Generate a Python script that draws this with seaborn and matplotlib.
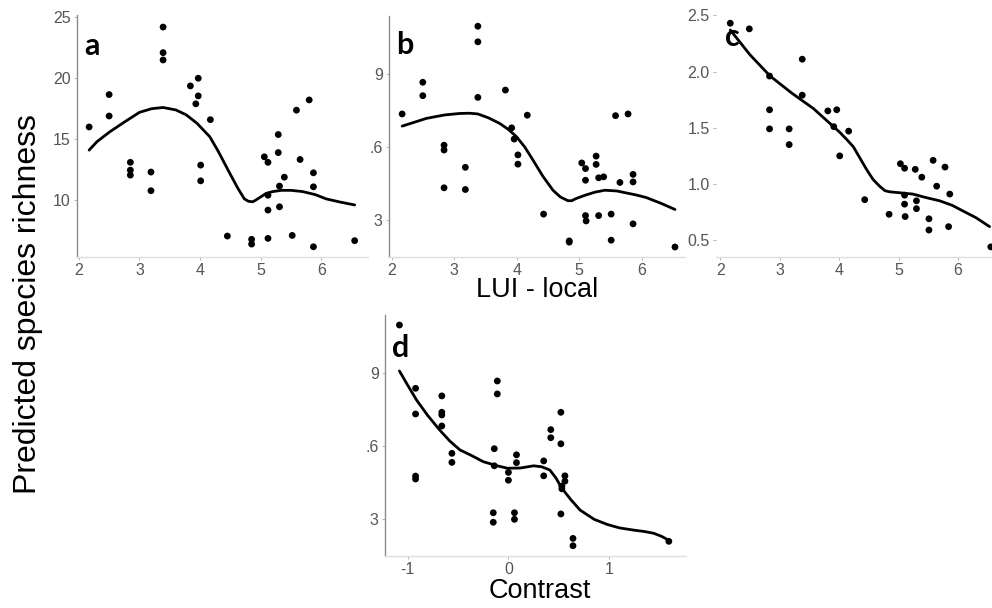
import numpy as np
import pandas as pd
import matplotlib
matplotlib.use("Agg")
import matplotlib.pyplot as plt
import seaborn as sns

# ---------------- data ----------------
lui_a = [2.17, 2.50, 2.50, 2.85, 2.85, 2.85, 3.19, 3.19, 3.39, 3.39, 3.39, 3.84, 3.93, 3.97, 3.97,
         4.01, 4.01, 4.17, 4.45, 4.85, 4.85, 5.06, 5.12, 5.12, 5.12, 5.12, 5.29, 5.29, 5.31, 5.31,
         5.39, 5.52, 5.59, 5.65, 5.80, 5.87, 5.87, 5.87, 6.55]
rich_a = [16.0, 18.66, 16.9, 13.1, 12.46, 12.05, 12.3, 10.77, 24.2, 22.1, 21.5, 19.37, 17.9, 20.0, 18.55,
          12.87, 11.58, 16.6, 7.05, 6.78, 6.39, 13.55, 13.1, 10.4, 9.18, 6.86, 15.38, 13.9, 11.15, 9.45,
          11.88, 7.1, 17.38, 13.33, 18.22, 12.24, 11.09, 6.17, 6.67]
fit_a_x = [2.17, 2.3, 2.51, 2.75, 3.0, 3.2, 3.39, 3.6, 3.77, 3.95, 4.16, 4.3, 4.49, 4.62, 4.73,
           4.8, 4.87, 4.95, 5.09, 5.2, 5.34, 5.5, 5.69, 5.9, 6.08, 6.3, 6.55]
fit_a_y = [14.1, 14.8, 15.6, 16.4, 17.2, 17.5, 17.6, 17.4, 17.0, 16.3, 15.2, 14.0, 12.2, 11.0, 10.1,
           9.9, 9.86, 10.1, 10.55, 10.7, 10.8, 10.8, 10.7, 10.45, 10.1, 9.85, 9.6]

lui_b = [2.17, 2.50, 2.50, 2.84, 2.84, 2.84, 3.18, 3.18, 3.38, 3.38, 3.38, 3.82, 3.92, 3.96, 4.02,
         4.02, 4.17, 4.43, 4.84, 4.84, 5.04, 5.10, 5.10, 5.10, 5.11, 5.27, 5.27, 5.31, 5.31, 5.39,
         5.51, 5.51, 5.58, 5.65, 5.78, 5.86, 5.86, 5.86, 6.53]
rich_b = [7.36, 8.66, 8.11, 6.08, 5.88, 4.33, 5.17, 4.26, 10.96, 10.32, 8.04, 8.34, 6.79, 6.33, 5.68,
          5.30, 7.31, 3.25, 2.15, 2.10, 5.35, 5.12, 4.64, 3.19, 2.97, 5.63, 5.29, 4.74, 3.19, 4.78,
          3.25, 2.18, 7.29, 4.55, 7.36, 4.88, 4.57, 2.85, 1.90]
fit_b_x = [2.17, 2.56, 2.85, 3.09, 3.25, 3.38, 3.55, 3.73, 3.87, 4.0, 4.13, 4.26, 4.42, 4.58, 4.7,
           4.82, 4.88, 4.95, 5.1, 5.25, 5.41, 5.6, 5.75, 5.92, 6.07, 6.3, 6.53]
fit_b_y = [6.86, 7.18, 7.32, 7.38, 7.39, 7.36, 7.2, 6.97, 6.72, 6.42, 6.0, 5.47, 4.8, 4.23, 3.95,
           3.80, 3.80, 3.89, 4.03, 4.15, 4.23, 4.2, 4.12, 4.03, 3.93, 3.7, 3.44]

lui_c = [2.17, 2.49, 2.83, 2.83, 2.83, 3.16, 3.16, 3.38, 3.38, 3.81, 3.96, 3.91, 4.01, 4.16, 4.43,
         4.84, 5.03, 5.10, 5.10, 5.10, 5.11, 5.28, 5.30, 5.30, 5.39, 5.51, 5.51, 5.58, 5.64, 5.78,
         5.84, 5.86, 6.55]
rich_c = [2.43, 2.38, 1.96, 1.66, 1.49, 1.49, 1.35, 2.11, 1.79, 1.65, 1.66, 1.51, 1.25, 1.47, 0.86,
          0.73, 1.18, 1.14, 0.90, 0.82, 0.71, 1.13, 0.85, 0.78, 1.06, 0.69, 0.59, 1.21, 0.98, 1.15,
          0.62, 0.91, 0.44]
fit_c_x = [2.17, 2.5, 2.84, 3.2, 3.57, 3.8, 4.01, 4.12, 4.24, 4.35, 4.46, 4.57, 4.68, 4.77, 4.85,
           5.05, 5.24, 5.45, 5.69, 5.9, 6.08, 6.3, 6.53]
fit_c_y = [2.37, 2.15, 1.96, 1.81, 1.67, 1.56, 1.46, 1.40, 1.33, 1.23, 1.13, 1.04, 0.98, 0.94, 0.93,
           0.92, 0.91, 0.88, 0.85, 0.81, 0.76, 0.70, 0.62]

contrast_d = [-1.08, -0.92, -0.92, -0.92, -0.92, -0.66, -0.66, -0.66, -0.66, -0.56, -0.56, -0.14, -0.14,
              -0.15, -0.15, -0.11, -0.11, 0.00, 0.00, 0.08, 0.08, 0.06, 0.06, 0.35, 0.35, 0.42, 0.42,
              0.52, 0.52, 0.52, 0.56, 0.56, 0.53, 0.53, 0.64, 0.64, 1.59]
rich_d = [10.95, 8.36, 7.31, 4.77, 4.65, 8.05, 7.38, 7.27, 6.82, 5.70, 5.33, 5.89, 5.19,
          3.27, 2.88, 8.66, 8.13, 4.92, 4.60, 5.64, 5.32, 3.27, 3.00, 5.39, 4.78, 6.67, 6.34,
          7.38, 6.09, 3.22, 4.78, 4.56, 4.36, 4.25, 2.22, 1.92, 2.10]
fit_d_x = [-1.08, -1.0, -0.91, -0.8, -0.68, -0.58, -0.48, -0.36, -0.25, -0.12, -0.01, 0.12, 0.25,
           0.33, 0.41, 0.47, 0.53, 0.62, 0.71, 0.85, 0.98, 1.1, 1.24, 1.35, 1.44, 1.52, 1.60]
fit_d_y = [9.07, 8.5, 7.88, 7.25, 6.65, 6.2, 5.84, 5.6, 5.36, 5.2, 5.09, 5.1, 5.19,
           5.15, 5.02, 4.7, 4.27, 3.8, 3.38, 3.0, 2.79, 2.65, 2.56, 2.5, 2.43, 2.3, 2.12]

ticks_lui = [2, 3, 4, 5, 6]
ticks_a = [10, 15, 20, 25]
ticks_b = [3, 6, 9]
labels_b = ["3", ".6", "9"]
ticks_c = [0.5, 1.0, 1.5, 2.0, 2.5]
labels_c = ["0.5", "1.0", "1.5", "2.0", "2.5"]
ticks_d = [-1, 0, 1]

# ---------------- figure ----------------
sns.set_theme(style="white")
plt.rcParams["font.family"] = ["Liberation Sans", "DejaVu Sans"]
plt.rcParams["axes.unicode_minus"] = False

W, H = 992, 608
fig = plt.figure(figsize=(W / 100, H / 100), dpi=100)


def add_ax(left, top, right, bottom):
    return fig.add_axes([left / W, 1 - bottom / H, (right - left) / W, (bottom - top) / H])


def style(ax, show_left=True):
    for s in ["top", "right"]:
        ax.spines[s].set_visible(False)
    ax.spines["left"].set_color("#8c8c8c")
    ax.spines["left"].set_linewidth(1.0)
    ax.spines["left"].set_visible(show_left)
    ax.spines["bottom"].set_color("#dedede")
    ax.spines["bottom"].set_linewidth(1.0)
    ax.tick_params(axis="both", which="both", length=2.5, width=0.6, color="#aaaaaa",
                   labelsize=11.5, labelcolor="#555555", pad=2,
                   left=True, bottom=True)
    ax.set_xlabel("")
    ax.set_ylabel("")
    ax.grid(False)
    ax.set_facecolor("white")


def panel(ax, x, y, fx, fy):
    sns.scatterplot(x=x, y=y, ax=ax, color="black", s=24, edgecolor="none", zorder=3)
    sns.lineplot(x=fx, y=fy, ax=ax, color="black", linewidth=2.0, zorder=4,
                 solid_joinstyle="round", solid_capstyle="round")


letter_kw = dict(fontsize=22, fontweight="bold", family=["Lato", "DejaVu Sans"], color="black")

# panel a
ax_a = add_ax(77, 15, 368, 257)
panel(ax_a, lui_a, rich_a, fit_a_x, fit_a_y)
ax_a.set_xlim(1.97, 6.77)
ax_a.set_ylim(5.33, 25.19)
ax_a.set_xticks(ticks_lui)
ax_a.set_yticks(ticks_a)
style(ax_a)
fig.text(84 / W, 1 - 55 / H, "a", **letter_kw)

# panel b
ax_b = add_ax(389, 16, 685, 257)
panel(ax_b, lui_b, rich_b, fit_b_x, fit_b_y)
ax_b.set_xlim(1.96, 6.69)
ax_b.set_ylim(1.49, 11.38)
ax_b.set_xticks(ticks_lui)
ax_b.set_yticks(ticks_b)
ax_b.set_yticklabels(labels_b)
style(ax_b)
fig.text(396 / W, 1 - 54 / H, "b", **letter_kw)

# panel c
ax_c = add_ax(716, 12, 992, 257)
panel(ax_c, lui_c, rich_c, fit_c_x, fit_c_y)
ax_c.set_xlim(1.93, 6.57)
ax_c.set_ylim(0.35, 2.53)
ax_c.set_xticks(ticks_lui)
ax_c.set_yticks(ticks_c)
ax_c.set_yticklabels(labels_c)
style(ax_c, show_left=False)
fig.text(725 / W, 1 - 46 / H, "c", **letter_kw)

# panel d
ax_d = add_ax(385, 315, 686, 556)
panel(ax_d, contrast_d, rich_d, fit_d_x, fit_d_y)
ax_d.set_xlim(-1.223, 1.76)
ax_d.set_ylim(1.50, 11.36)
ax_d.set_xticks(ticks_d)
ax_d.set_yticks(ticks_b)
ax_d.set_yticklabels(labels_b)
style(ax_d)
fig.text(392 / W, 1 - 357 / H, "d", **letter_kw)

# shared titles
fig.text(537 / W, 1 - 290 / H, "LUI - local", ha="center", va="center", fontsize=19.5, color="black")
fig.text(540 / W, 1 - 591 / H, "Contrast", ha="center", va="center", fontsize=19.5, color="black")
fig.text(28 / W, 1 - 304 / H, "Predicted species richness", ha="center", va="center",
         rotation=90, fontsize=23, color="black")

fig.savefig("out.png", dpi=100, facecolor="white")
